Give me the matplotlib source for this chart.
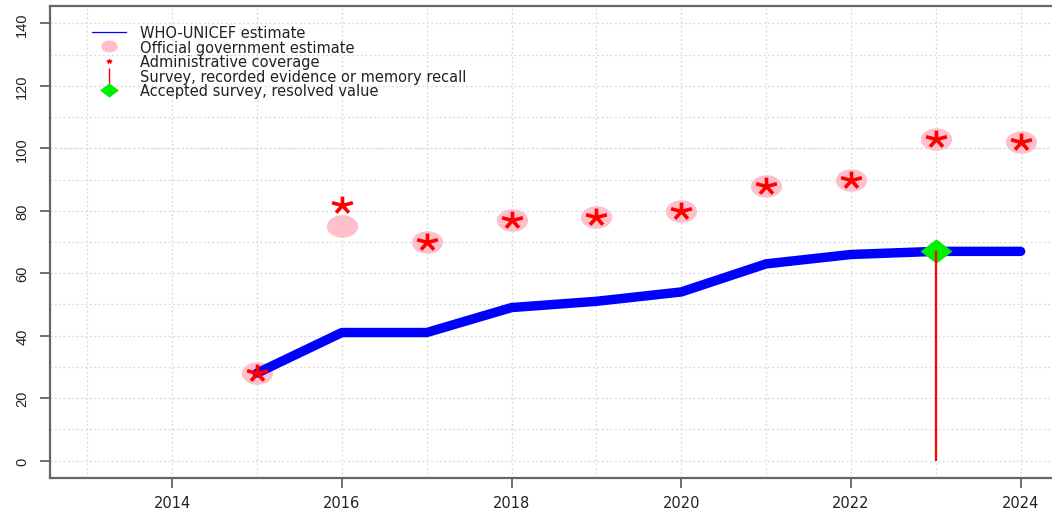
import numpy as np
import matplotlib
matplotlib.use("Agg")
import matplotlib.pyplot as plt
from matplotlib.path import Path
from matplotlib.transforms import Affine2D
from matplotlib.lines import Line2D

plt.rcParams['font.family'] = ['DejaVu Sans']

years = [2015, 2016, 2017, 2018, 2019, 2020, 2021, 2022, 2023, 2024]
wuenic = [28, 41, 41, 49, 51, 54, 63, 66, 67, 67]
official = [28, 75, 70, 77, 78, 80, 88, 90, 103, 102]
admin = [28, 82, 70, 77, 78, 80, 88, 90, 103, 102]
survey_years = [2023]
survey_values = [67]
accepted_years = [2023]
accepted_values = [67]

xticks = [2014, 2016, 2018, 2020, 2022, 2024]
yticks = [0, 20, 40, 60, 80, 100, 120, 140]
legend_labels = ["WHO-UNICEF estimate", "Official government estimate",
                 "Administrative coverage",
                 "Survey, recorded evidence or memory recall",
                 "Accepted survey, resolved value"]

# custom marker shapes (source image is horizontally stretched)
ellipse = Path.unit_circle().transformed(Affine2D().scale(1.0, 0.72))
angles = np.deg2rad([90, 18, -54, -126, 162])
verts, codes = [], []
for a in angles:
    verts += [(0, 0), (1.23 * np.cos(a), np.sin(a))]
    codes += [Path.MOVETO, Path.LINETO]
asterisk = Path(verts, codes)
diamond = Path([(0, 0.76), (1, 0), (0, -0.76), (-1, 0), (0, 0.76)],
               [Path.MOVETO, Path.LINETO, Path.LINETO, Path.LINETO, Path.CLOSEPOLY])

W, H = 1052, 510
fig = plt.figure(figsize=(W / 100, H / 100), dpi=100)
ax = fig.add_axes([50 / W, 31 / H, (1058 - 50) / W, (479 - 7) / H])

ax.set_xlim(2012.56, 2024.44)
ax.set_ylim(-5.6, 145.6)

# grid
for yr in range(2013, 2025):
    ax.axvline(yr, color='#d9d9d9', lw=0.9, ls=(0, (1.5, 2.0)), zorder=0)
for v in range(0, 141, 10):
    ax.axhline(v, color='#d9d9d9', lw=0.9, ls=(0, (1.5, 2.0)), zorder=0)
ax.axhline(100, color='#f5d5dc', lw=1.0, ls=(0, (1.5, 2.0)), zorder=0.5)

ax.plot(years, official, ls='none', marker=ellipse, markersize=22.5,
        color='pink', markeredgewidth=0, zorder=1)
ax.plot(years, wuenic, color='blue', lw=6.8, solid_capstyle='round',
        solid_joinstyle='round', zorder=2)
ax.plot(years, admin, ls='none', marker=asterisk, markersize=15,
        markeredgecolor='red', markerfacecolor='none', markeredgewidth=2.6,
        zorder=3)
ax.plot(accepted_years, accepted_values, ls='none', marker=diamond,
        markersize=23, color='#00ee00', markeredgewidth=0, zorder=4)
ax.vlines(survey_years, 0, survey_values, color='red', lw=1.6, zorder=5)

ax.set_xticks(xticks)
ax.set_yticks(yticks)
ax.tick_params(axis='both', length=7, width=1.2, color='#555555',
               labelcolor='#222222')
ax.tick_params(axis='x', pad=5, labelsize=10.5)
ax.tick_params(axis='y', pad=8, labelsize=10.5, labelrotation=90,
               labelfontfamily='Liberation Sans')
for lab in ax.get_yticklabels():
    lab.set_va('center')
for s in ax.spines.values():
    s.set_color('#666666')
    s.set_linewidth(1.6)

handles = [
    Line2D([], [], color='blue', lw=0.9),
    Line2D([], [], ls='none', marker=ellipse, markersize=12, color='pink', markeredgewidth=0),
    Line2D([], [], ls='none', marker=asterisk, markersize=4, markeredgecolor='red',
           markerfacecolor='none', markeredgewidth=1.2),
    Line2D([], [], ls='none', marker='|', markersize=12, color='red', markeredgewidth=1.0),
    Line2D([], [], ls='none', marker=diamond, markersize=13.5, color='#00ee00', markeredgewidth=0),
]
fig.legend(handles, legend_labels, loc='upper left',
           bbox_to_anchor=(92 / W, 1 - 26 / H), frameon=False, fontsize=10.5,
           handlelength=2.3, handletextpad=1.0, labelspacing=-0.03,
           borderpad=0, borderaxespad=0, labelcolor='#222222')

fig.savefig('out.png', dpi=100)
